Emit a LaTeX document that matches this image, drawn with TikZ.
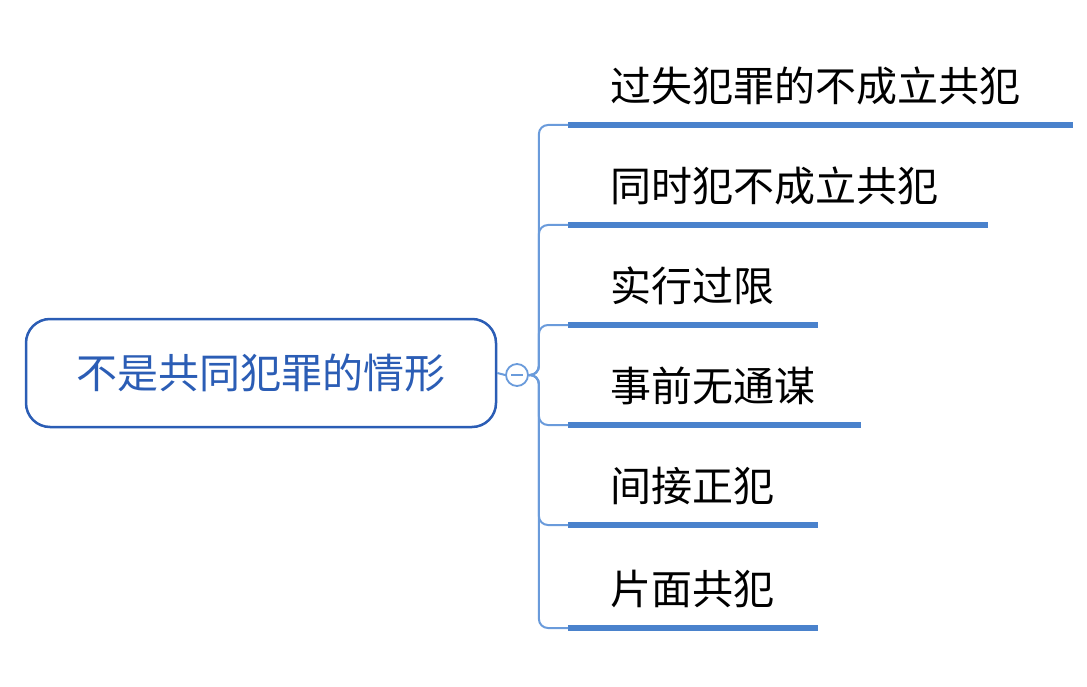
\documentclass[tikz,border=0pt]{standalone}
\usepackage{fontspec}
\newfontfamily\cjk{Noto Sans CJK SC}
\definecolor{rootc}{HTML}{2B5DB5}
\definecolor{linec}{HTML}{4A82CC}
\definecolor{conc}{HTML}{6A9BDB}
\begin{document}
\begin{tikzpicture}[x=1pt,y=-1pt,
  leaf/.style={anchor=south west,inner sep=0pt,font=\cjk\fontsize{41}{44}\selectfont,text=black},
  uline/.style={line width=6pt,draw=linec},
  con/.style={draw=conc,line width=2pt,rounded corners=9pt}]
\useasboundingbox (0,0) rectangle (1087,687);
\node[draw=rootc,line width=2.5pt,rounded corners=24pt,minimum width=470pt,minimum height=108pt,
  font=\cjk\fontsize{41}{44}\selectfont,text=rootc] (root) at (261,373) {不是共同犯罪的情形};
\node[draw=conc,line width=1.8pt,circle,minimum size=22pt,inner sep=0pt,fill=white] (col) at (517,375) {};
\draw[conc,line width=1.5pt] (511,375) -- (523,375);
\draw[con] (root.east) -- (col.west);
\foreach \i/\y/\e/\t in {1/125/1073/过失犯罪的不成立共犯,2/225/988/同时犯不成立共犯,3/325/818/实行过限,4/425/861/事前无通谋,5/525/818/间接正犯,6/628/818/片面共犯}{
  \coordinate (s\i) at (568,\y);
  \coordinate (e\i) at (\e,\y);
  \draw[uline] (s\i) -- (e\i);
  \node[leaf] (t\i) at (610,\y-20) {\t};
  \draw[con] (col.east) -- ++(10,0) |- (s\i);
}
\end{tikzpicture}
\end{document}
